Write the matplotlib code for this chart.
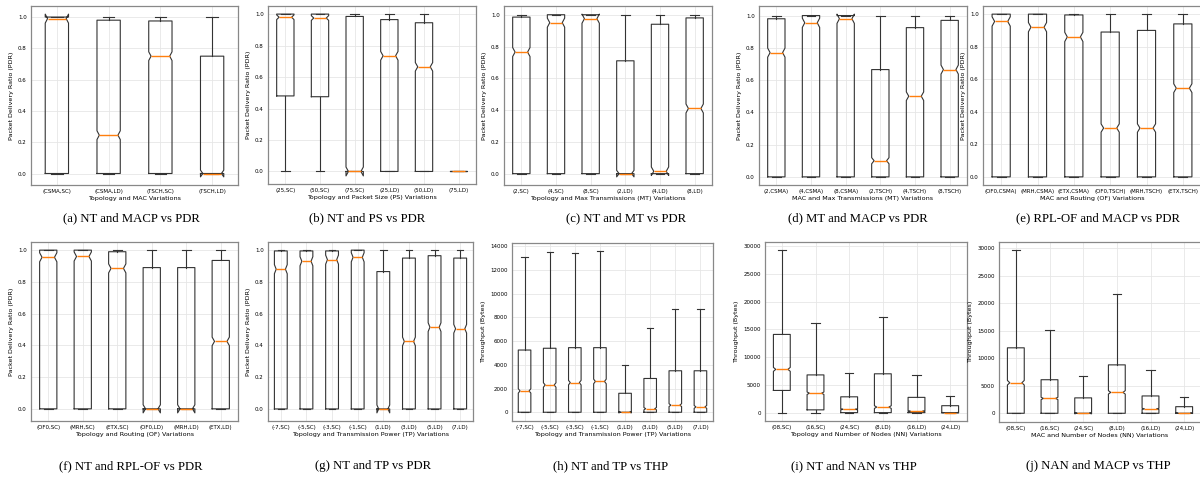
import numpy as np
import matplotlib.pyplot as plt

# x tick labels
lab_a = ['(CSMA,SC)', '(CSMA,LD)', '(TSCH,SC)', '(TSCH,LD)']
lab_b = ['(25,SC)', '(50,SC)', '(75,SC)', '(25,LD)', '(50,LD)', '(75,LD)']
lab_c = ['(2,SC)', '(4,SC)', '(8,SC)', '(2,LD)', '(4,LD)', '(8,LD)']
lab_d = ['(2,CSMA)', '(4,CSMA)', '(8,CSMA)', '(2,TSCH)', '(4,TSCH)', '(8,TSCH)']
lab_e = ['(OF0,CSMA)', '(MRH,CSMA)', '(ETX,CSMA)', '(OF0,TSCH)', '(MRH,TSCH)', '(ETX,TSCH)']
lab_f = ['(OF0,SC)', '(MRH,SC)', '(ETX,SC)', '(OF0,LD)', '(MRH,LD)', '(ETX,LD)']
lab_tp = ['(-7,SC)', '(-5,SC)', '(-3,SC)', '(-1,SC)', '(1,LD)', '(3,LD)', '(5,LD)', '(7,LD)']
lab_nn = ['(08,SC)', '(16,SC)', '(24,SC)', '(8,LD)', '(16,LD)', '(24,LD)']

# box statistics: whislo, q1, med, q3, whishi
a_lo = [0, 0, 0, 0]
a_q1 = [0, 0, 0, 0]
a_med = [0.99, 0.245, 0.75, 0.0]
a_q3 = [1.0, 0.98, 0.975, 0.75]
a_hi = [1.0, 1.0, 1.0, 1.0]

b_lo = [0, 0, 0, 0, 0, 0]
b_q1 = [0.48, 0.475, 0, 0, 0, 0]
b_med = [0.98, 0.975, 0.0, 0.735, 0.665, 0.0]
b_q3 = [1.0, 1.0, 0.985, 0.965, 0.945, 0.0]
b_hi = [1.0, 1.0, 1.0, 1.0, 1.0, 0.0]

c_lo = [0, 0, 0, 0, 0, 0]
c_q1 = [0, 0, 0, 0, 0, 0]
c_med = [0.765, 0.95, 0.975, 0.0, 0.015, 0.41]
c_q3 = [0.985, 1.0, 1.0, 0.71, 0.94, 0.98]
c_hi = [1.0, 1.0, 1.0, 1.0, 1.0, 1.0]

d_lo = [0, 0, 0, 0, 0, 0]
d_q1 = [0, 0, 0, 0, 0, 0]
d_med = [0.77, 0.955, 0.98, 0.1, 0.5, 0.665]
d_q3 = [0.98, 1.0, 1.0, 0.665, 0.925, 0.97]
d_hi = [1.0, 1.0, 1.0, 1.0, 1.0, 1.0]

e_lo = [0, 0, 0, 0, 0, 0]
e_q1 = [0, 0, 0, 0, 0, 0]
e_med = [0.955, 0.92, 0.86, 0.30, 0.30, 0.545]
e_q3 = [1.0, 1.0, 0.995, 0.89, 0.90, 0.94]
e_hi = [1.0, 1.0, 1.0, 1.0, 1.0, 1.0]

f_lo = [0, 0, 0, 0, 0, 0]
f_q1 = [0, 0, 0, 0, 0, 0]
f_med = [0.955, 0.96, 0.885, 0.0, 0.0, 0.425]
f_q3 = [1.0, 1.0, 0.99, 0.89, 0.89, 0.935]
f_hi = [1.0, 1.0, 1.0, 1.0, 1.0, 1.0]

g_lo = [0, 0, 0, 0, 0, 0, 0, 0]
g_q1 = [0, 0, 0, 0, 0, 0, 0, 0]
g_med = [0.88, 0.93, 0.94, 0.955, 0.0, 0.425, 0.515, 0.505]
g_q3 = [0.995, 0.995, 0.995, 1.0, 0.865, 0.95, 0.965, 0.95]
g_hi = [1.0, 1.0, 1.0, 1.0, 1.0, 1.0, 1.0, 1.0]

h_lo = [0, 0, 0, 0, 0, 0, 0, 0]
h_q1 = [0, 0, 0, 0, 0, 0, 0, 0]
h_med = [1800, 2300, 2500, 2600, 0, 300, 600, 450]
h_q3 = [5250, 5400, 5450, 5450, 1600, 2850, 3500, 3500]
h_hi = [13100, 13500, 13450, 13600, 3950, 7100, 8700, 8700]

i_lo = [0, 0, 0, 0, 0, 0]
i_q1 = [4000, 500, 0, 0, 0, 0]
i_med = [7800, 3500, 600, 1000, 250, 0]
i_q3 = [14100, 6800, 2850, 7000, 2750, 1250]
i_hi = [29300, 16200, 7100, 17250, 6850, 3050]

j_lo = [0, 0, 0, 0, 0, 0]
j_q1 = [0, 0, 0, 0, 0, 0]
j_med = [5550, 2700, 0, 3800, 800, 0]
j_q3 = [11900, 6100, 2800, 8800, 3150, 1200]
j_hi = [29650, 15150, 6850, 21650, 7850, 3000]

# runs per box, sets the notch size (1.57 * IQR / sqrt(n))
n_pdr = 3000
n_thp = 2000

PDR = 'Packet Delivery Ratio (PDR)'
THP = 'Throughput (Bytes)'

panels = [
    (lab_a, a_lo, a_q1, a_med, a_q3, a_hi, n_pdr, PDR, 'Topology and MAC Variations', '(a) NT and MACP vs PDR'),
    (lab_b, b_lo, b_q1, b_med, b_q3, b_hi, n_pdr, PDR, 'Topology and Packet Size (PS) Variations', '(b) NT and PS vs PDR'),
    (lab_c, c_lo, c_q1, c_med, c_q3, c_hi, n_pdr, PDR, 'Topology and Max Transmissions (MT) Variations', '(c) NT and MT vs PDR'),
    (lab_d, d_lo, d_q1, d_med, d_q3, d_hi, n_pdr, PDR, 'MAC and Max Transmissions (MT) Variations', '(d) MT and MACP vs PDR'),
    (lab_e, e_lo, e_q1, e_med, e_q3, e_hi, n_pdr, PDR, 'MAC and Routing (OF) Variations', '(e) RPL-OF and MACP vs PDR'),
    (lab_f, f_lo, f_q1, f_med, f_q3, f_hi, n_pdr, PDR, 'Topology and Routing (OF) Variations', '(f) NT and RPL-OF vs PDR'),
    (lab_tp, g_lo, g_q1, g_med, g_q3, g_hi, n_pdr, PDR, 'Topology and Transmission Power (TP) Variations', '(g) NT and TP vs PDR'),
    (lab_tp, h_lo, h_q1, h_med, h_q3, h_hi, n_thp, THP, 'Topology and Transmission Power (TP) Variations', '(h) NT and TP vs THP'),
    (lab_nn, i_lo, i_q1, i_med, i_q3, i_hi, n_thp, THP, 'Topology and Number of Nodes (NN) Variations', '(i) NT and NAN vs THP'),
    (lab_nn, j_lo, j_q1, j_med, j_q3, j_hi, n_thp, THP, 'MAC and Number of Nodes (NN) Variations', '(j) NAN and MACP vs THP'),
]

# axes boxes in pixels: left, top, right, bottom ; caption centre x, y
W, H = 1200, 478
rects = [
    (31, 6, 238, 185), (268, 6, 476, 184), (504, 6, 712, 185), (759, 6, 967, 185), (983, 6, 1201, 185),
    (31, 242, 238, 421), (268, 242, 473, 421), (512, 243, 713, 421), (765, 242, 967, 421), (999, 242, 1201, 422),
]
caps = [(131, 218), (367, 218), (626, 218), (858, 218), (1098, 218),
        (131, 466), (373, 466), (611, 466), (854, 466), (1098, 466)]

fig = plt.figure(figsize=(12, 4.78), dpi=100)

for (labels, lo, q1, med, q3, hi, n, ylab, xlab, cap), r, c in zip(panels, rects, caps):
    ax = fig.add_axes([r[0] / W, 1 - r[3] / H, (r[2] - r[0]) / W, (r[3] - r[1]) / H])
    stats = []
    for k in range(len(labels)):
        half = 1.57 * (q3[k] - q1[k]) / np.sqrt(n)
        stats.append(dict(whislo=lo[k], q1=q1[k], med=med[k], q3=q3[k], whishi=hi[k],
                          cilo=med[k] - half, cihi=med[k] + half, fliers=[]))
    art = ax.bxp(stats, shownotches=True, showfliers=False,
                 boxprops=dict(color='#333333', linewidth=0.8),
                 whiskerprops=dict(color='#333333', linewidth=0.8),
                 capprops=dict(color='#333333', linewidth=0.8),
                 medianprops=dict(color='#ff7f0e', linewidth=1.0))
    # shallower notches, like the original
    for k, (bx, md) in enumerate(zip(art['boxes'], art['medians'])):
        pos = k + 1
        xd = np.array(bx.get_xdata(), dtype=float)
        xd[3] = pos + 0.5 * 0.36
        xd[8] = pos - 0.5 * 0.36
        bx.set_xdata(xd)
        md.set_xdata([pos - 0.5 * 0.36, pos + 0.5 * 0.36])
    ax.set_xticks(range(1, len(labels) + 1))
    ax.set_xticklabels(labels)
    ax.grid(True, color='#e6e6e6', linewidth=0.6)
    ax.set_axisbelow(True)
    ax.tick_params(labelsize=4, length=0, pad=3)
    for s in ax.spines.values():
        s.set_color('#888888')
        s.set_linewidth(0.9)
    ax.set_ylabel(ylab, fontsize=4.6, labelpad=3)
    ax.set_xlabel(xlab, fontsize=4.6, labelpad=1.5)
    fig.text(c[0] / W, 1 - c[1] / H, cap, ha='center', va='center',
             fontsize=9.2, family='Liberation Serif')

fig.savefig('out.png', dpi=100)
